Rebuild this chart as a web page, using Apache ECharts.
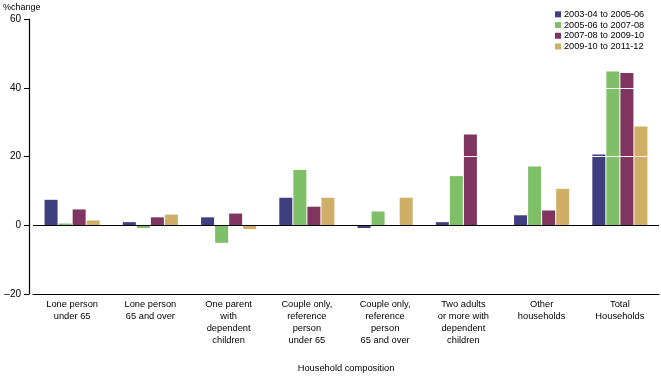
<!DOCTYPE html>
<html>
<head>
<meta charset="utf-8">
<script src="https://cdn.jsdelivr.net/npm/echarts@6/dist/echarts.min.js"></script>
<style>
  html, body { margin: 0; padding: 0; background: #fff; }
  #chart { width: 661px; height: 378px; }
</style>
</head>
<body>
<div id="chart"></div>
<script>
// household types
var categories = [
  'Lone person\nunder 65',
  'Lone person\n65 and over',
  'One parent\nwith\ndependent\nchildren',
  'Couple only,\nreference\nperson\nunder 65',
  'Couple only,\nreference\nperson\n65 and over',
  'Two adults\nor more with\ndependent\nchildren',
  'Other\nhouseholds',
  'Total\nHouseholds'
];
var periods = ['2003-04 to 2005-06', '2005-06 to 2007-08', '2007-08 to 2009-10', '2009-10 to 2011-12'];
var colors = ['#3f3f7f', '#7fbf67', '#7f355f', '#cfae67'];

var p1 = [7.4, 0.9, 2.3, 8.0, -0.8, 0.9, 2.9, 20.6];
var p2 = [0.5, -0.8, -5.1, 16.1, 4.0, 14.3, 17.1, 44.7];
var p3 = [4.6, 2.3, 3.4, 5.4, 0, 26.4, 4.3, 44.3];
var p4 = [1.4, 3.1, -1.1, 8.0, 8.0, 0, 10.6, 28.7];
var yTicks = [-20, 0, 20, 40, 60];

var font = 'Liberation Sans, Arial, sans-serif';
var chart = echarts.init(document.getElementById('chart'));

var seriesData = [p1, p2, p3, p4];
var series = seriesData.map(function (vals, i) {
  var s = {
    name: periods[i],
    type: 'bar',
    data: vals,
    barWidth: 13,
    barGap: '8%',
    itemStyle: { color: colors[i] },
    animation: false
  };
  if (i == 0) {
    // black zero line and white grid lines over the bars
    s.markLine = {
      silent: true,
      symbol: 'none',
      label: { show: false },
      animation: false,
      z: 10,
      data: [
        { yAxis: 0, lineStyle: { color: '#000', width: 1.2, type: 'solid' } },
        { yAxis: 20, lineStyle: { color: '#fff', width: 1, type: 'solid' } },
        { yAxis: 40, lineStyle: { color: '#fff', width: 1, type: 'solid' } }
      ]
    };
  }
  return s;
});

chart.setOption({
  backgroundColor: '#fff',
  animation: false,
  textStyle: { fontFamily: font, color: '#000' },
  title: {
    text: '%change',
    left: 3,
    top: 3,
    padding: 0,
    textStyle: { fontSize: 9, fontWeight: 'normal', color: '#000', fontFamily: font }
  },
  legend: {
    orient: 'vertical',
    left: 555,
    top: 9,
    padding: 0,
    itemWidth: 6,
    itemHeight: 6,
    itemGap: 0,
    icon: 'rect',
    textStyle: { fontSize: 9.2, color: '#000', fontFamily: font, lineHeight: 10.7, padding: [0, 0, 0, -2] },
    data: periods
  },
  grid: { left: 33, right: 2, top: 19, bottom: 79, containLabel: false },
  xAxis: {
    type: 'category',
    data: categories,
    name: 'Household composition',
    nameLocation: 'middle',
    nameGap: 70,
    nameTextStyle: { fontSize: 9.3, color: '#000', fontFamily: font },
    axisLine: { onZero: false, lineStyle: { color: '#000', width: 1.2 } },
    axisTick: { alignWithLabel: true, length: 4, lineStyle: { color: '#000' } },
    axisLabel: { fontSize: 9.3, color: '#000', lineHeight: 11.7, margin: 5, interval: 0, fontFamily: font },
    splitLine: { show: false }
  },
  yAxis: {
    type: 'value',
    min: yTicks[0],
    max: yTicks[yTicks.length - 1],
    interval: 20,
    offset: 4,
    axisLine: { show: true, lineStyle: { color: '#000', width: 1.2 } },
    axisTick: { show: true, length: 5, lineStyle: { color: '#000' } },
    axisLabel: {
      fontSize: 10, color: '#000', margin: 8, fontFamily: font,
      formatter: function (v) { return v < 0 ? '\u2013' + Math.abs(v) : String(v); }
    },
    splitLine: { show: false }
  },
  series: series
});
</script>
</body>
</html>
